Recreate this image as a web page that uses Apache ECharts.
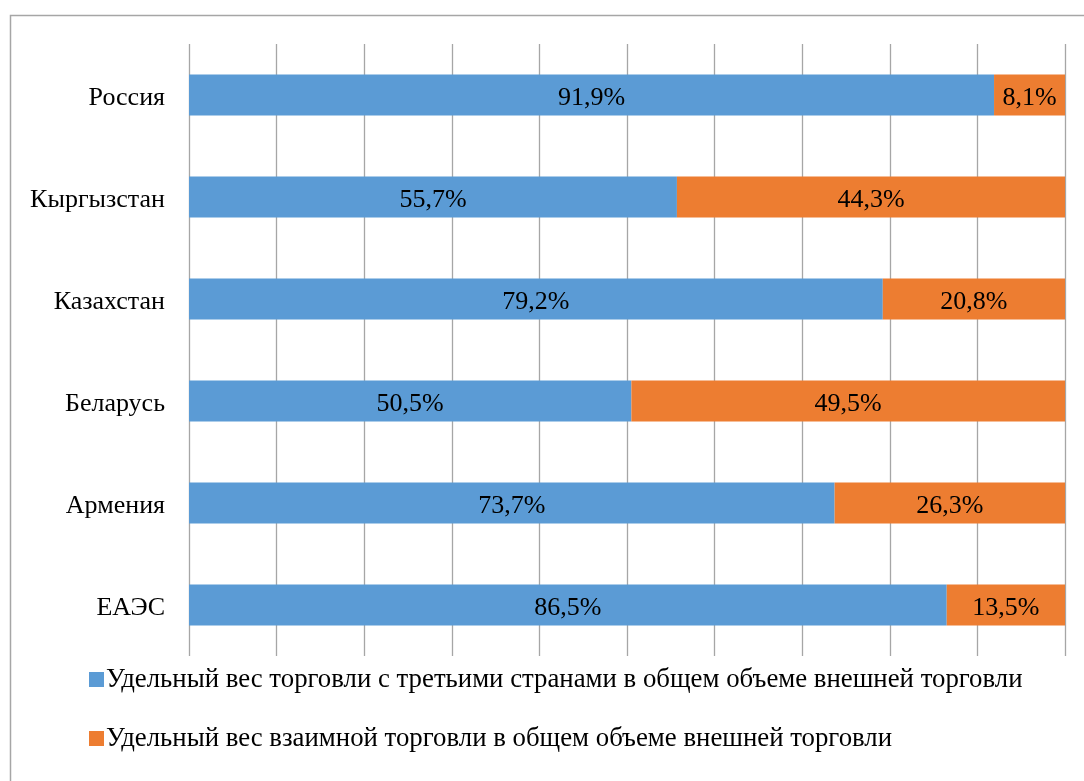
<!DOCTYPE html>
<html><head><meta charset="utf-8">
<script src="https://cdn.jsdelivr.net/npm/echarts@6/dist/echarts.min.js"></script>
<style>html,body{margin:0;padding:0;background:#fff}#c{width:1084px;height:781px}</style>
</head><body><div id="c"></div>
<script>
const categories = ['ЕАЭС', 'Армения', 'Беларусь', 'Казахстан', 'Кыргызстан', 'Россия'];
const thirdCountries = [86.5, 73.7, 50.5, 79.2, 55.7, 91.9];
const mutualTrade = [13.5, 26.3, 49.5, 20.8, 44.3, 8.1];
const seriesNames = [
  'Удельный вес торговли с третьими странами в общем объеме внешней торговли',
  'Удельный вес взаимной торговли в общем объеме внешней торговли'
];
const font = 'Liberation Serif';
const fs = 26;
const chart = echarts.init(document.getElementById('c'));
const fmt = p => p.value.toFixed(1).replace('.', ',') + '%';
chart.setOption({
  animation: false,
  textStyle: { fontFamily: font },
  graphic: [{ type: 'rect', shape: { x: 10.5, y: 15.5, width: 1100, height: 800 }, style: { fill: 'none', stroke: '#a6a6a6', lineWidth: 1.5 }, z: -1 }],
  grid: { left: 189, right: 19, top: 44, bottom: 125 },
  xAxis: {
    type: 'value', min: 0, max: 100, interval: 10,
    axisLabel: { show: false }, axisLine: { show: false }, axisTick: { show: false },
    splitLine: { show: true, lineStyle: { color: '#a6a6a6', width: 1.3 } }
  },
  yAxis: {
    type: 'category', data: categories,
    axisLine: { show: false }, axisTick: { show: false },
    axisLabel: {
      color: '#000', fontSize: fs, fontFamily: font, margin: 24,
      formatter: v => '{a|' + v + '}',
      rich: { a: { color: '#000', fontSize: fs, fontFamily: font, padding: [7, 0, 0, 0] } }
    }
  },
  legend: {
    orient: 'vertical', left: 84, top: 661, itemWidth: 15, itemHeight: 15, itemGap: 32,
    icon: 'rect',
    textStyle: { color: '#000', fontSize: 26.8, fontFamily: font, padding: [0, 0, 0, -3] },
    data: seriesNames
  },
  series: [
    { name: seriesNames[0], type: 'bar', stack: 't', data: thirdCountries, barWidth: '40%',
      itemStyle: { color: '#5B9BD5' },
      label: { show: true, position: 'inside', color: '#000', fontSize: fs, fontFamily: font, formatter: fmt, offset: [0, 3] } },
    { name: seriesNames[1], type: 'bar', stack: 't', data: mutualTrade, barWidth: '40%',
      itemStyle: { color: '#ED7D31' },
      label: { show: true, position: 'inside', color: '#000', fontSize: fs, fontFamily: font, formatter: fmt, offset: [0, 3] } }
  ]
});
</script></body></html>
